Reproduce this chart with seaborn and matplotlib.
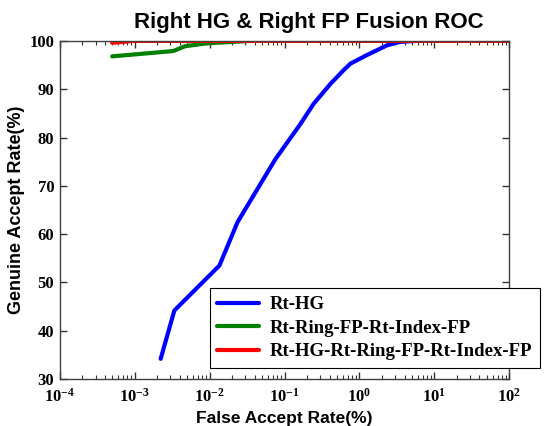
import numpy as np
import pandas as pd
import matplotlib
matplotlib.use("Agg")
import matplotlib.pyplot as plt
from matplotlib.ticker import LogLocator, NullFormatter
import seaborn as sns

# curve values (FAR in %, GAR in %)
hg_far = [0.00222, 0.00338, 0.0135, 0.0236, 0.0753, 0.163, 0.245, 0.41, 0.62, 0.76, 1.27, 2.35, 3.5, 5.9, 100]
hg_gar = [34.2, 44.2, 53.5, 62.5, 75.5, 82.8, 87.0, 91.1, 94.0, 95.3, 97.1, 99.1, 99.8, 100, 100]

fp_far = [0.0005, 0.00327, 0.0047, 0.0091, 0.035, 100]
fp_gar = [96.8, 97.9, 98.9, 99.5, 100, 100]

fusion_far = [0.0005, 0.00095, 100]
fusion_gar = [99.6, 100, 100]

labels = ['Rt-HG', 'Rt-Ring-FP-Rt-Index-FP', 'Rt-HG-Rt-Ring-FP-Rt-Index-FP']
colors = ['#0000ff', '#008000', '#ff0000']
x_ticks = [1e-4, 1e-3, 1e-2, 1e-1, 1e0, 1e1, 1e2]
y_ticks = [30, 40, 50, 60, 70, 80, 90, 100]

frames = []
for lab, far, gar in zip(labels, [hg_far, fp_far, fusion_far], [hg_gar, fp_gar, fusion_gar]):
    frames.append(pd.DataFrame({'far': far, 'gar': gar, 'method': lab}))
df = pd.concat(frames, ignore_index=True)

sns.set_style('ticks', {'xtick.direction': 'in', 'ytick.direction': 'in'})
plt.rcParams['mathtext.default'] = 'regular'
plt.rcParams['axes.unicode_minus'] = False
plt.rcParams['text.color'] = 'black'
plt.rcParams['axes.labelcolor'] = 'black'

fig = plt.figure(figsize=(5.59, 4.26), dpi=100)
ax = fig.add_axes([0.107, 0.110, 0.804, 0.794])

sns.lineplot(data=df, x='far', y='gar', hue='method', hue_order=labels,
             palette=colors, linewidth=3, sort=False, estimator=None, ax=ax)

ax.set_xscale('log')
ax.set_xlim(1e-4, 1e2)
ax.set_ylim(30, 100)
ax.set_yticks(y_ticks)
ax.set_xticks(x_ticks)
ax.xaxis.set_minor_locator(LogLocator(base=10, subs=np.arange(2, 10), numticks=20))
ax.xaxis.set_minor_formatter(NullFormatter())

ax.tick_params(which='both', direction='in', bottom=True, left=True, top=True, right=True,
               color='#333333', labelcolor='black')
ax.tick_params(which='major', length=5, width=1)
ax.tick_params(which='minor', length=3, width=0.8)
ax.tick_params(axis='x', which='major', pad=6)
ax.tick_params(axis='y', which='major', pad=4)
for lbl in ax.get_xticklabels() + ax.get_yticklabels():
    lbl.set_fontfamily('Liberation Serif')
    lbl.set_fontweight('bold')
    lbl.set_fontsize(12)
for sp in ax.spines.values():
    sp.set_color('#404040')
    sp.set_linewidth(1)

ax.set_xlabel('False Accept Rate(%)', fontfamily='Liberation Sans', fontweight='bold',
              fontsize=12.5, labelpad=4)
ax.set_ylabel('Genuine Accept Rate(%)', fontfamily='Liberation Sans', fontweight='bold',
              fontsize=13, labelpad=3)
ax.set_title('Right HG & Right FP Fusion ROC', fontfamily='Liberation Sans', fontweight='bold',
             fontsize=16, pad=9, x=0.555)

leg = ax.legend(loc='lower right', bbox_to_anchor=(1.068, 0.033), fancybox=False, framealpha=1,
                edgecolor='black', prop={'family': 'Liberation Serif', 'weight': 'bold', 'size': 13.5},
                handlelength=2.2, handletextpad=0.6, borderpad=0.4, labelspacing=0.35,
                borderaxespad=0)
leg.get_frame().set_linewidth(0.8)
for line in leg.get_lines():
    line.set_linewidth(3)

fig.savefig('out.png', dpi=100)
